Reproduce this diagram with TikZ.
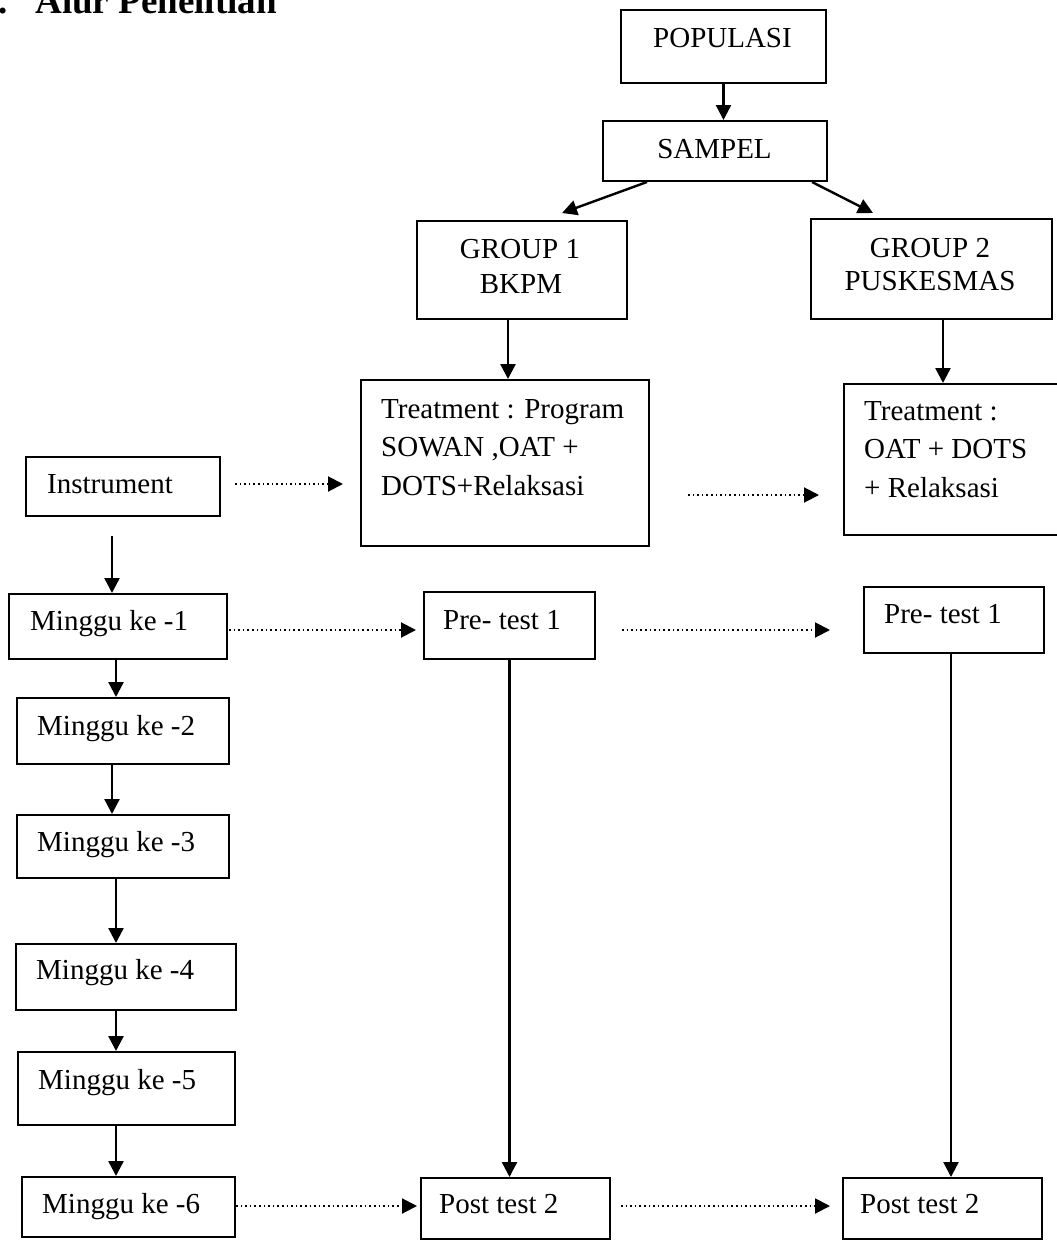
\documentclass[tikz,border=0pt]{standalone}
\usepackage{fontspec}
\setmainfont{Liberation Serif}
\usetikzlibrary{arrows.meta,calc}

\begin{document}
\begin{tikzpicture}[x=1pt,y=-1pt,
  box/.style={draw, line width=2pt, inner sep=0pt, anchor=north west},
  lbl/.style={inner sep=0pt, font=\fontsize{29}{38}\selectfont},
  lblw/.style={lbl, anchor=base west},
  lblc/.style={lbl, anchor=base},
  arr/.style={line width=2.4pt, -{Triangle[length=15pt,width=15pt]}},
  dotarr/.style={line width=2pt, dash pattern=on 1.6pt off 3pt,
    -{Triangle[length=15pt,width=15pt]}}]

\useasboundingbox (0,0) rectangle (1057,1240);

% heading, partly above the page
\node[inner sep=0pt, anchor=base west, font=\fontsize{37}{44}\selectfont\bfseries]
  (heading) at (-2,13) {.\hspace{28pt}Alur Penelitian};

% boxes
\node[box, minimum width=205pt, minimum height=73pt]  (populasi)   at (620,9)    {};
\node[box, minimum width=224pt, minimum height=60pt]  (sampel)     at (602,120)  {};
\node[box, minimum width=210pt, minimum height=98pt]  (group1)     at (416,220)  {};
\node[box, minimum width=241pt, minimum height=100pt] (group2)     at (810,218)  {};
\node[box, minimum width=288pt, minimum height=166pt] (treat1)     at (360,379)  {};
\node[box, minimum width=219pt, minimum height=151pt] (treat2)     at (843,383)  {};
\node[box, minimum width=194pt, minimum height=59pt]  (instrument) at (25,456)   {};
\node[box, minimum width=218pt, minimum height=65pt]  (m1)         at (8,593)    {};
\node[box, minimum width=212pt, minimum height=66pt]  (m2)         at (16,697)   {};
\node[box, minimum width=212pt, minimum height=63pt]  (m3)         at (16,814)   {};
\node[box, minimum width=220pt, minimum height=66pt]  (m4)         at (15,943)   {};
\node[box, minimum width=217pt, minimum height=73pt]  (m5)         at (17,1051)  {};
\node[box, minimum width=213pt, minimum height=60pt]  (m6)         at (21,1176)  {};
\node[box, minimum width=171pt, minimum height=67pt]  (pre1)       at (423,591)  {};
\node[box, minimum width=180pt, minimum height=66pt]  (pre2)       at (863,586)  {};
\node[box, minimum width=189pt, minimum height=61pt]  (post1)      at (420,1177) {};
\node[box, minimum width=199pt, minimum height=61pt]  (post2)      at (842,1177) {};

% texts
\node[lblc] (populasi-t) at (722.5,47) {POPULASI};
\node[lblc] (sampel-t)   at (714.5,158) {SAMPEL};
\node[lblc] (group1-a)   at (520,258) {GROUP 1};
\node[lblc] (group1-b)   at (521,293) {BKPM};
\node[lblc] (group2-a)   at (930,257) {GROUP 2};
\node[lblc] (group2-b)   at (930,290) {PUSKESMAS};
\node[lblw] (treat1-a)   at (381,418) {Treatment : Program};
\node[lblw] (treat1-b)   at (381,456) {SOWAN ,OAT +};
\node[lblw] (treat1-c)   at (381,495) {DOTS+Relaksasi};
\node[lblw] (treat2-a)   at (864,420) {Treatment :};
\node[lblw] (treat2-b)   at (864,458) {OAT + DOTS};
\node[lblw] (treat2-c)   at (864,497) {+ Relaksasi};
\node[lblw] (instrument-t) at (47,493) {Instrument};
\node[lblw] (m1-t) at (30,630)  {Minggu ke -1};
\node[lblw] (m2-t) at (37,735)  {Minggu ke -2};
\node[lblw] (m3-t) at (37,851)  {Minggu ke -3};
\node[lblw] (m4-t) at (36,979)  {Minggu ke -4};
\node[lblw] (m5-t) at (38,1089) {Minggu ke -5};
\node[lblw] (m6-t) at (42,1213) {Minggu ke -6};
\node[lblw] (pre1-t)  at (443,629)  {Pre- test 1};
\node[lblw] (pre2-t)  at (884,623)  {Pre- test 1};
\node[lblw] (post1-t) at (439,1213) {Post test 2};
\node[lblw] (post2-t) at (860,1213) {Post test 2};

% solid connectors
\draw[arr] (populasi.south) -- (populasi.south |- sampel.north);
\draw[arr] ($(sampel.south west)+(45,0)$) -- ($(group1.north west)+(146,-7)$);
\draw[arr] ($(sampel.south east)+(-16,0)$) -- ($(group2.north west)+(63,-5)$);

\coordinate (g1s) at ($(group1.south west)+(92,0)$);
\coordinate (g2s) at ($(group2.south west)+(133,0)$);
\draw[arr] (g1s) -- (g1s |- treat1.north);
\draw[arr] (g2s) -- (g2s |- treat2.north);

\coordinate (a0) at ($(instrument.south west)+(87,19)$);
\coordinate (a1) at ($(m1.south west)+(108,0)$);
\coordinate (a2) at ($(m2.south west)+(96,0)$);
\coordinate (a3) at ($(m3.south west)+(100,0)$);
\coordinate (a4) at ($(m4.south west)+(101,0)$);
\coordinate (a5) at ($(m5.south west)+(99,0)$);
\draw[arr] (a0) -- (a0 |- m1.north);
\draw[arr] (a1) -- (a1 |- m2.north);
\draw[arr] (a2) -- (a2 |- m3.north);
\draw[arr] (a3) -- (a3 |- m4.north);
\draw[arr] (a4) -- (a4 |- m5.north);
\draw[arr] (a5) -- (a5 |- m6.north);

\draw[arr] (pre1.south) -- (pre1.south |- post1.north);
\draw[arr] ($(pre2.south)+(-3,0)$) coordinate (p2s) -- (p2s |- post2.north);

% dotted connectors
\coordinate (d0) at ($(instrument.east)+(14,-2.5)$);
\coordinate (d1) at ($(treat1.east)+(38,32)$);
\coordinate (d2) at ($(m1.east)+(1,3.5)$);
\coordinate (d3) at ($(pre1.east)+(26,4.5)$);
\coordinate (d4) at ($(m6.east)+(0,-1)$);
\coordinate (d5) at ($(post1.east)+(10,-2.5)$);
\draw[dotarr] (d0) -- ($(d0 -| treat1.west)+(-17,0)$);
\draw[dotarr] (d1) -- ($(d1 -| treat2.west)+(-24,0)$);
\draw[dotarr] (d2) -- ($(d2 -| pre1.west)+(-7,0)$);
\draw[dotarr] (d3) -- ($(d3 -| pre2.west)+(-33,0)$);
\draw[dotarr] (d4) -- ($(d4 -| post1.west)+(-3,0)$);
\draw[dotarr] (d5) -- ($(d5 -| post2.west)+(-12,0)$);

\end{tikzpicture}
\end{document}
